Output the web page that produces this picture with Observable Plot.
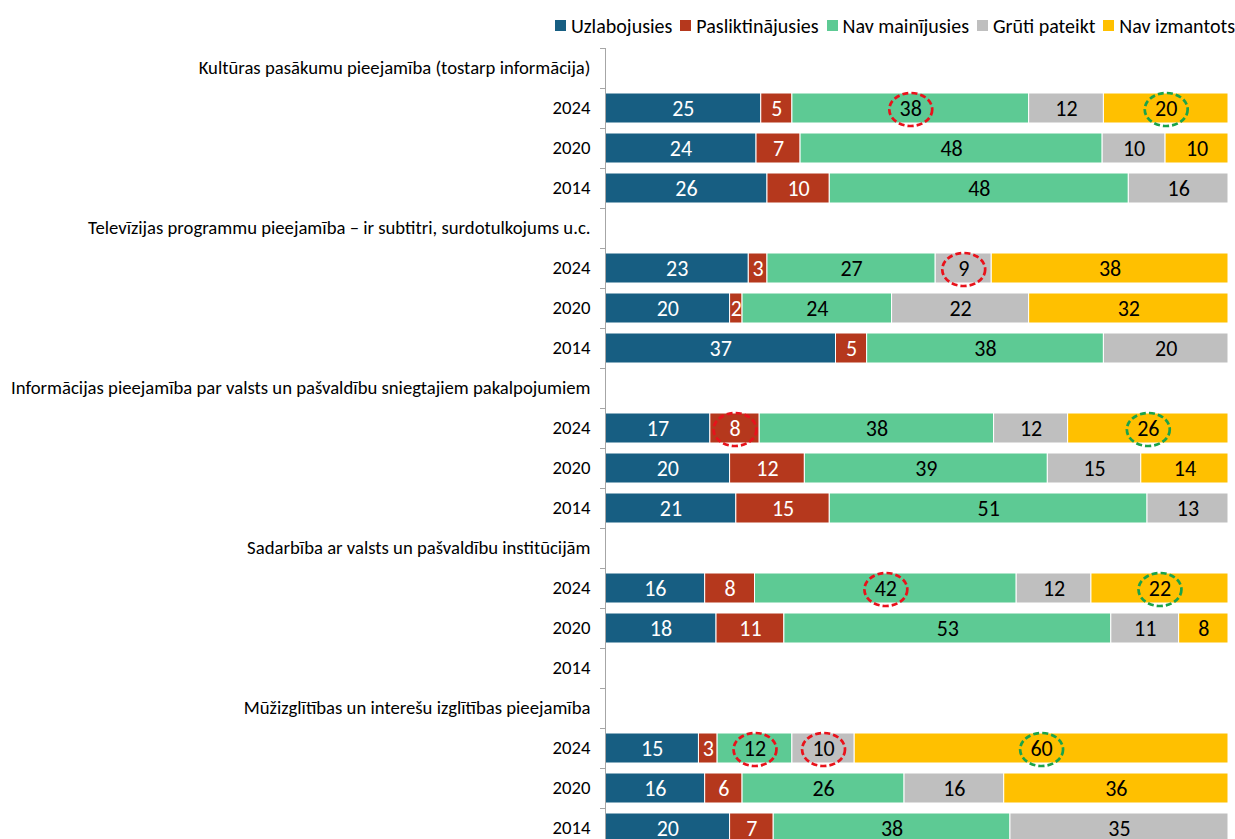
<!DOCTYPE html>
<html><head><meta charset="utf-8">
<script src="https://cdn.jsdelivr.net/npm/d3@7"></script>
<script src="https://cdn.jsdelivr.net/npm/@observablehq/plot@0.6"></script>
<style>
html,body{margin:0;padding:0;background:#fff;width:1235px;height:839px;overflow:hidden;font-family:Carlito,Lato,sans-serif;}
#legend{height:40px;box-sizing:border-box;padding-top:11px;display:flex;justify-content:flex-end;align-items:center;font-size:20px;line-height:24px;color:#000;}
#legend .item{display:inline-flex;align-items:center;margin-left:8px;white-space:nowrap;}
#legend .sw{display:inline-block;width:11px;height:11px;margin-right:5px;}
</style></head>
<body>
<div id="legend"></div>
<div id="chart"></div>
<script>
const categories = ["Uzlabojusies","Pasliktinājusies","Nav mainījusies","Grūti pateikt","Nav izmantots"];
const colors = ["#175E82","#B5381D","#5DCA94","#BFBFBF","#FFC000"];
const groups = [
  "Kultūras pasākumu pieejamība (tostarp informācija)",
  "Televīzijas programmu pieejamība – ir subtitri, surdotulkojums u.c.",
  "Informācijas pieejamība par valsts un pašvaldību sniegtajiem pakalpojumiem",
  "Sadarbība ar valsts un pašvaldību institūcijām",
  "Mūžizglītības un interešu izglītības pieejamība"
];
const years = ["2024","2020","2014"];
// values per group: rows = years, columns = categories
const kulturas   = [[25,5,38,12,20],[24,7,48,10,10],[26,10,48,16,0]];
const televizija = [[23,3,27,9,38],[20,2,24,22,32],[37,5,38,20,0]];
const informacija= [[17,8,38,12,26],[20,12,39,15,14],[21,15,51,13,0]];
const sadarbiba  = [[16,8,42,12,22],[18,11,53,11,8],null];
const muzizglitiba=[[15,3,12,10,60],[16,6,26,16,36],[20,7,38,35,0]];
const groupValues = [kulturas, televizija, informacija, sadarbiba, muzizglitiba];
// annotations: [group index, year, category index]
const redMarks   = [[0,"2024",2],[1,"2024",3],[2,"2024",1],[3,"2024",2],[4,"2024",2],[4,"2024",3]];
const greenMarks = [[0,"2024",4],[2,"2024",4],[3,"2024",4],[4,"2024",4]];

const keys = [], labelOf = {};
groups.forEach((g, gi) => {
  keys.push("G" + gi); labelOf["G" + gi] = g;
  years.forEach(y => { const k = gi + "|" + y; keys.push(k); labelOf[k] = y; });
});
const data = [];
groupValues.forEach((rows, gi) => {
  years.forEach((y, yi) => {
    const r = rows && rows[yi];
    if (!r) return;
    r.forEach((v, ci) => {
      const key = gi + "|" + y;
      const red = redMarks.some(a => a[0] === gi && a[1] === y && a[2] === ci);
      const green = greenMarks.some(a => a[0] === gi && a[1] === y && a[2] === ci);
      data.push({key, category: categories[ci], ci, value: v, ann: red ? "red" : green ? "green" : null});
    });
  });
});

function stacked(filterFn, extra) {
  const st = Plot.stackX({x: "value", y: "key", z: "category", offset: "normalize"});
  return {...extra, ...st, transform(d, facets, opts) {
    const r = st.transform(d, facets, opts);
    return {...r, data: r.data, facets: r.facets.map(f => f.filter(i => filterFn(r.data[i])))};
  }};
}
const ellipse = {draw(ctx, size) {
  const r = Math.sqrt(size / Math.PI), rx = r * 1.3, ry = r, k = 0.5523;
  ctx.moveTo(rx, 0);
  ctx.bezierCurveTo(rx, ry * k, rx * k, ry, 0, ry);
  ctx.bezierCurveTo(-rx * k, ry, -rx, ry * k, -rx, 0);
  ctx.bezierCurveTo(-rx, -ry * k, -rx * k, -ry, 0, -ry);
  ctx.bezierCurveTo(rx * k, -ry, rx, -ry * k, rx, 0);
  ctx.closePath();
}};

const font = "Carlito, Lato, sans-serif";
const chart = Plot.plot({
  width: 1235, height: 808,
  marginLeft: 605, marginRight: 7, marginTop: 8, marginBottom: 0,
  style: {fontFamily: font, fontSize: "18.7px", color: "#000", background: "#fff"},
  x: {domain: [0, 1], axis: null},
  y: {domain: keys, paddingInner: 0.25, paddingOuter: 0.125, label: null},
  color: {domain: categories, range: colors},
  marks: [
    Plot.axisY({tickSize: 0, tickPadding: 15, tickFormat: k => labelOf[k], label: null, fontSize: 18.7}),
    Plot.barX(data, Plot.stackX({x: "value", y: "key", z: "category", fill: "category", offset: "normalize", stroke: "white", strokeWidth: 1})),
    Plot.text(data, stacked(d => d.ci < 2 && d.value > 0, {text: "value", fill: "white", fontSize: 22})),
    Plot.text(data, stacked(d => d.ci >= 2 && d.value > 0, {text: "value", fill: "black", fontSize: 22})),
    Plot.dot(data, stacked(d => d.ann === "red", {r: 16.5, dy: 1, symbol: ellipse, stroke: "#E8121B", strokeWidth: 2.7, strokeDasharray: "6,3", fill: "none"})),
    Plot.dot(data, stacked(d => d.ann === "green", {r: 16.5, dy: 1, symbol: ellipse, stroke: "#1AA34A", strokeWidth: 2.7, strokeDasharray: "6,3", fill: "none"})),
    Plot.ruleX([0], {stroke: "#A6A6A6"}),
    Plot.ruleY(keys, {y: d => d, dy: -20, x1: -0.008, x2: 0, stroke: "#A6A6A6"})
  ]
});
document.getElementById("chart").appendChild(chart);

const legendDiv = document.getElementById("legend");
categories.forEach((c, i) => {
  const item = document.createElement("span");
  item.className = "item";
  const sw = document.createElement("span");
  sw.className = "sw";
  sw.style.background = colors[i];
  item.appendChild(sw);
  item.appendChild(document.createTextNode(c));
  legendDiv.appendChild(item);
});
</script>
</body></html>
